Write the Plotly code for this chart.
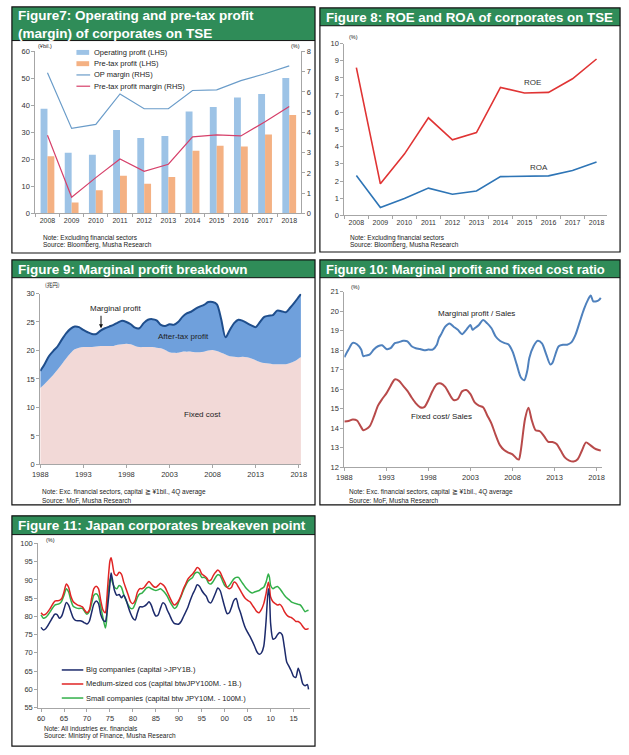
import plotly.graph_objects as go

W, H = 629, 755


def px(x):
    return x / W


def py(y):
    return 1 - y / H


# ---------------- DATA ----------------
# Figure 7
F7_YEARS = ["2008", "2009", "2010", "2011", "2012", "2013", "2014", "2015", "2016", "2017", "2018"]
F7_OP_PROFIT = [38.8, 22.5, 21.7, 30.9, 27.9, 28.7, 37.8, 39.4, 42.9, 44.2, 50.2]
F7_PRETAX_PROFIT = [21.2, 4.1, 8.6, 14.0, 11.0, 13.5, 23.2, 25.1, 24.8, 29.2, 36.5]
F7_OP_MARGIN = [6.95, 4.2, 4.4, 5.9, 5.17, 5.17, 6.07, 6.1, 6.56, 6.9, 7.29]
F7_PRETAX_MARGIN = [3.86, 0.8, 1.77, 2.69, 2.08, 2.43, 3.78, 3.88, 3.83, 4.53, 5.28]

# Figure 8
F8_YEARS = ["2008", "2009", "2010", "2011", "2012", "2013", "2014", "2015", "2016", "2017", "2018"]
F8_ROE = [8.6, 1.84, 3.57, 5.68, 4.4, 4.82, 7.45, 7.12, 7.16, 7.95, 9.1]
F8_ROA = [2.32, 0.46, 0.98, 1.59, 1.23, 1.42, 2.26, 2.3, 2.3, 2.61, 3.11]

# Figure 9 (trillion yen)
F9_X = [1988, 1988.5, 1989, 1989.5, 1990, 1990.5, 1991, 1991.5, 1992, 1992.5,
        1993, 1993.5, 1994, 1994.5, 1995, 1995.5, 1996, 1996.5, 1997, 1997.5,
        1998, 1998.5, 1999, 1999.5, 2000, 2000.5, 2001, 2001.5, 2002, 2002.5,
        2003, 2003.5, 2004, 2004.5, 2005, 2005.5, 2006, 2006.5, 2007, 2007.5,
        2008, 2008.5, 2009, 2009.5, 2010, 2010.5, 2011, 2011.5, 2012, 2012.5,
        2013, 2013.5, 2014, 2014.5, 2015, 2015.5, 2016, 2016.5, 2017, 2017.5,
        2018, 2018.25]
F9_MARGINAL = [16.4, 17.6, 19.0, 19.9, 20.7, 21.9, 23.0, 23.8, 24.2, 24.1,
               23.6, 23.2, 22.9, 22.9, 23.5, 23.9, 24.2, 24.5, 24.9, 25.2,
               25.0, 24.6, 24.0, 23.9, 24.8, 25.4, 25.5, 25.3, 24.5, 24.3,
               24.6, 24.5, 25.0, 25.9, 26.5, 26.8, 27.3, 27.7, 28.0, 28.5,
               28.5, 28.1, 25.5, 22.3, 23.6, 24.8, 25.4, 25.2, 24.8, 24.4,
               24.1, 25.0, 25.9, 26.1, 26.2, 27.0, 26.9, 26.7, 27.5, 28.4,
               29.4, 29.9]
F9_FIXED = [13.4, 14.1, 14.9, 15.7, 16.6, 17.6, 18.6, 19.5, 20.2, 20.5,
            20.6, 20.6, 20.6, 20.7, 20.8, 20.8, 20.8, 20.8, 21.0, 21.1,
            21.2, 21.1, 20.8, 20.6, 20.6, 20.6, 20.6, 20.5, 20.4, 20.1,
            19.7, 19.6, 19.6, 19.8, 19.8, 19.8, 19.7, 19.7, 19.8, 20.0,
            20.1, 19.9, 19.6, 19.3, 19.0, 18.9, 18.8, 18.9, 18.8, 18.6,
            18.3, 18.0, 17.8, 17.7, 17.6, 17.6, 17.6, 17.6, 17.8, 18.1,
            18.6, 18.8]

# Figure 10 (%)
F10_MP_X = [1988, 1988.5, 1989, 1989.5, 1990, 1990.25, 1990.5, 1991, 1991.5, 1992,
            1992.5, 1993, 1993.5, 1994, 1994.5, 1995, 1995.5, 1996, 1996.5, 1997,
            1997.5, 1998, 1998.5, 1999, 1999.25, 1999.5, 2000, 2000.5, 2001, 2001.5,
            2002, 2002.5, 2003, 2003.25, 2003.5, 2004, 2004.5, 2005, 2005.5, 2006,
            2006.5, 2007, 2007.5, 2008, 2008.5, 2009, 2009.4, 2009.75, 2010, 2010.5,
            2011, 2011.5, 2012, 2012.5, 2012.75, 2013, 2013.5, 2014, 2014.5, 2015,
            2015.5, 2016, 2016.5, 2017, 2017.3, 2017.6, 2018, 2018.25, 2018.5]
F10_MP = [17.64, 18.03, 18.37, 18.3, 18.03, 17.69, 17.72, 17.77, 18.03, 18.2,
          18.25, 18.06, 18.1, 18.36, 18.41, 18.48, 18.45, 18.2, 18.1, 18.06,
          17.99, 18.03, 18.03, 18.28, 18.62, 18.8, 19.2, 19.37, 19.2, 19.04,
          18.82, 19.04, 19.29, 19.04, 19.12, 19.29, 19.54, 19.37, 19.12, 18.7,
          18.48, 18.37, 18.3, 17.94, 17.27, 16.6, 16.46, 16.93, 17.6, 18.2,
          18.48, 18.35, 17.8, 17.27, 17.35, 17.65, 18.2, 18.28, 18.28, 18.4,
          18.8, 19.45, 20.1, 20.6, 20.8, 20.5, 20.5, 20.55, 20.67]
F10_FC_X = [1988, 1988.5, 1989, 1989.5, 1990, 1990.25, 1991, 1991.5, 1992, 1992.5,
            1993, 1993.5, 1994, 1994.5, 1995, 1995.5, 1996, 1996.5, 1997, 1997.5,
            1998, 1998.5, 1999, 1999.5, 2000, 2000.5, 2001, 2001.5, 2002, 2002.5,
            2003, 2003.5, 2004, 2004.5, 2005, 2005.5, 2006, 2006.5, 2007, 2007.5,
            2008, 2008.5, 2008.75, 2009, 2009.5, 2009.9, 2010.3, 2010.75, 2011.25, 2011.75,
            2012.25, 2012.75, 2013.25, 2013.75, 2014.25, 2014.75, 2015.25, 2015.75, 2016.25, 2016.75,
            2017.25, 2017.75, 2018.25, 2018.5]
F10_FC = [14.35, 14.38, 14.45, 14.4, 14.06, 13.9, 14.1, 14.58, 15.16, 15.5,
          15.79, 16.17, 16.5, 16.43, 16.17, 15.92, 15.58, 15.28, 15.08, 15.08,
          15.45, 15.92, 16.26, 16.29, 16.12, 15.75, 15.45, 15.5, 15.89, 15.96,
          15.75, 15.33, 15.16, 15.08, 14.66, 14.24, 13.65, 13.14, 12.89, 12.76,
          12.67, 12.45, 12.4, 12.9, 14.5, 15.05, 14.4, 13.9, 13.85, 13.6,
          13.31, 13.3, 13.2, 12.85, 12.5, 12.35, 12.3, 12.42, 12.85, 13.28,
          13.14, 12.98, 12.89, 12.86]

# Figure 11 (%), half-yearly readings
F11_X = [1960, 1960.5, 1961, 1961.5, 1962, 1962.5, 1963, 1963.5, 1964, 1964.5,
         1965, 1965.5, 1966, 1966.5, 1967, 1967.5, 1968, 1968.5, 1969, 1969.5,
         1970, 1970.5, 1971, 1971.5, 1972, 1972.5, 1973, 1973.5, 1974, 1974.25, 1974.5,
         1975, 1975.25, 1975.5, 1976, 1976.5, 1977, 1977.5, 1978, 1978.5, 1979, 1979.5,
         1980, 1980.5, 1981, 1981.5, 1982, 1982.5, 1983, 1983.5, 1984, 1984.5,
         1985, 1985.5, 1986, 1986.5, 1987, 1987.5, 1988, 1988.5, 1989, 1989.5,
         1990, 1990.5, 1991, 1991.5, 1992, 1992.5, 1993, 1993.5, 1994, 1994.5,
         1995, 1995.5, 1996, 1996.5, 1997, 1997.5, 1998, 1998.5, 1999, 1999.5,
         2000, 2000.5, 2001, 2001.5, 2002, 2002.5, 2003, 2003.5, 2004, 2004.5,
         2005, 2005.5, 2006, 2006.5, 2007, 2007.5, 2008, 2008.5, 2009, 2009.5, 2009.75,
         2010, 2010.5, 2011, 2011.5, 2012, 2012.5, 2013, 2013.5, 2014, 2014.5,
         2015, 2015.5, 2016, 2016.5, 2017, 2017.5, 2018, 2018.25]
F11_BIG = [77.0, 76.3, 76.6, 77.5, 78.6, 79.7, 80.6, 80.5, 79.5, 80.1,
           82.0, 83.8, 83.1, 81.3, 79.6, 78.9, 78.8, 78.8, 78.6, 78.2,
           77.9, 78.6, 81.0, 83.4, 84.2, 83.6, 80.5, 79.0, 78.6, 80.0, 82.6,
           88.9, 91.9, 90.5, 87.1, 85.8, 86.0, 85.1, 85.8, 84.6, 82.6, 80.8,
           79.5, 79.0, 81.0, 82.6, 82.6, 82.8, 83.3, 84.0, 83.1, 81.3,
           80.1, 80.4, 82.2, 83.7, 83.3, 81.7, 80.4, 79.0, 78.1, 77.9,
           77.9, 78.6, 79.9, 81.2, 82.6, 84.4, 86.0, 87.3, 88.7, 88.3,
           87.1, 86.2, 85.5, 84.0, 83.7, 84.9, 86.4, 87.8, 87.1, 84.9,
           82.6, 80.8, 81.0, 82.6, 84.4, 84.9, 82.6, 80.8, 78.6, 76.8,
           75.6, 74.5, 73.2, 71.8, 70.3, 69.6, 70.0, 71.8, 78.6, 87.6, 85.5,
           78.0, 73.8, 74.0, 75.0, 75.6, 75.0, 71.5, 67.5, 66.3, 65.0,
           63.5, 63.3, 65.8, 64.0, 61.5, 61.0, 61.3, 60.0]
F11_MEDIUM = [81.0, 80.4, 80.6, 81.3, 82.2, 83.3, 84.2, 84.3, 84.4, 84.9,
              86.7, 88.9, 88.0, 85.5, 84.0, 83.5, 83.1, 82.9, 82.6, 81.7,
              81.0, 81.7, 84.9, 87.6, 88.3, 87.6, 84.4, 81.7, 81.0, 83.5, 88.0,
              95.2, 96.1, 94.8, 91.6, 91.2, 92.1, 91.6, 89.4, 87.6, 85.8, 84.0,
              83.5, 84.4, 86.7, 87.6, 87.6, 88.0, 88.9, 89.6, 88.9, 88.2,
              88.0, 88.5, 89.1, 88.7, 88.0, 86.7, 85.3, 84.0, 83.1, 83.5,
              84.4, 85.8, 87.6, 88.9, 90.3, 91.0, 91.6, 92.5, 93.4, 93.0,
              91.6, 91.2, 90.7, 89.8, 90.0, 91.2, 92.1, 92.7, 92.1, 90.7,
              89.4, 88.0, 87.6, 88.0, 89.4, 89.1, 88.0, 86.9, 85.8, 84.9,
              84.4, 84.0, 83.1, 82.2, 81.3, 81.0, 81.9, 83.5, 86.2, 89.4, 88.0,
              85.3, 84.0, 83.5, 83.1, 83.3, 82.6, 81.3, 80.4, 79.9, 79.7,
              79.2, 78.6, 78.6, 78.1, 77.2, 76.5, 76.5, 76.7]
F11_SMALL = [80.4, 79.5, 79.7, 80.4, 81.3, 82.3, 83.1, 83.3, 83.5, 84.2,
             85.8, 87.6, 86.7, 84.4, 82.8, 82.4, 82.2, 82.2, 82.2, 81.3,
             80.6, 81.3, 83.5, 85.8, 86.2, 85.5, 82.6, 79.5, 76.8, 78.6, 85.3,
             90.0, 90.7, 89.5, 88.0, 87.6, 88.5, 88.0, 86.0, 84.4, 83.1, 82.2,
             82.2, 83.5, 85.3, 86.2, 86.4, 87.1, 87.8, 88.0, 87.6, 87.3,
             87.1, 87.3, 87.6, 87.1, 86.4, 85.5, 84.2, 83.1, 82.2, 82.6,
             84.0, 85.5, 87.1, 88.5, 89.6, 90.2, 90.7, 91.8, 92.1, 91.8,
             90.7, 90.7, 90.3, 89.1, 88.9, 89.6, 90.7, 91.4, 91.2, 89.8,
             88.5, 88.0, 88.5, 89.4, 90.3, 90.7, 90.7, 89.8, 88.9, 88.0,
             87.3, 86.7, 86.4, 86.7, 86.9, 87.1, 87.6, 88.0, 89.4, 91.6, 90.7,
             88.5, 87.6, 88.0, 88.2, 87.6, 86.7, 85.8, 85.1, 84.6, 84.0,
             83.7, 83.5, 83.3, 83.1, 82.2, 81.3, 81.6, 81.7]
F11_TICKVALS = [1960, 1965, 1970, 1975, 1980, 1985, 1990, 1995, 2000, 2005, 2010, 2015]
F11_TICKTEXT = ["60", "65", "70", "75", "80", "85", "90", "95", "00", "05", "10", "15"]

# ---------------- STYLE ----------------
FONT = "Liberation Sans, Arial, sans-serif"
GREEN = "#2f8c58"
AX = "#a6a6a6"
TICKF = dict(family=FONT, size=7.5, color="#333333")

C_OPB = "#9dc3e6"
C_PTB = "#f4b183"
C_OPM = "#6a9cc9"
C_PTM = "#d6406a"
C_ROE = "#e03434"
C_ROA = "#2e75b6"
C_F9LINE = "#1f4e8c"
C_F9FILL = "#6fa0dc"
C_F9PINK = "#f2d9d7"
C_MP = "#4f81bd"
C_FC = "#b84a4a"
C_BIG = "#1c2a6b"
C_MED = "#e02525"
C_SML = "#33b04a"

fig = go.Figure()

# Figure 7
fig.add_trace(go.Bar(x=F7_YEARS, y=F7_OP_PROFIT, marker_color=C_OPB, name="Operating profit (LHS)",
                     xaxis="x", yaxis="y", marker_line_width=0))
fig.add_trace(go.Bar(x=F7_YEARS, y=F7_PRETAX_PROFIT, marker_color=C_PTB, name="Pre-tax profit (LHS)",
                     xaxis="x", yaxis="y", marker_line_width=0))
fig.add_trace(go.Scatter(x=F7_YEARS, y=F7_OP_MARGIN, mode="lines", line=dict(color=C_OPM, width=1.2),
                         name="OP margin (RHS)", xaxis="x", yaxis="y2"))
fig.add_trace(go.Scatter(x=F7_YEARS, y=F7_PRETAX_MARGIN, mode="lines", line=dict(color=C_PTM, width=1.2),
                         name="Pre-tax profit margin (RHS)", xaxis="x", yaxis="y2"))

# Figure 8
fig.add_trace(go.Scatter(x=F8_YEARS, y=F8_ROE, mode="lines", line=dict(color=C_ROE, width=1.6),
                         name="ROE", xaxis="x2", yaxis="y3"))
fig.add_trace(go.Scatter(x=F8_YEARS, y=F8_ROA, mode="lines", line=dict(color=C_ROA, width=1.6),
                         name="ROA", xaxis="x2", yaxis="y3"))

# Figure 9
fig.add_trace(go.Scatter(x=F9_X, y=F9_FIXED, mode="lines", line=dict(color=C_F9PINK, width=0, shape="spline"),
                         fill="tozeroy", fillcolor=C_F9PINK, name="Fixed cost", xaxis="x3", yaxis="y4"))
fig.add_trace(go.Scatter(x=F9_X, y=F9_MARGINAL, mode="lines",
                         line=dict(color=C_F9LINE, width=2, shape="spline", smoothing=0.8),
                         fill="tonexty", fillcolor=C_F9FILL, name="Marginal profit", xaxis="x3", yaxis="y4"))

# Figure 10
fig.add_trace(go.Scatter(x=F10_MP_X, y=F10_MP, mode="lines",
                         line=dict(color=C_MP, width=2, shape="spline", smoothing=0.8),
                         name="Marginal profit / Sales", xaxis="x4", yaxis="y5"))
fig.add_trace(go.Scatter(x=F10_FC_X, y=F10_FC, mode="lines",
                         line=dict(color=C_FC, width=2, shape="spline", smoothing=0.8),
                         name="Fixed cost/ Sales", xaxis="x4", yaxis="y5"))

# Figure 11
fig.add_trace(go.Scatter(x=F11_X, y=F11_SMALL, mode="lines",
                         line=dict(color=C_SML, width=1.5, shape="spline", smoothing=0.7),
                         name="Small companies", xaxis="x5", yaxis="y6"))
fig.add_trace(go.Scatter(x=F11_X, y=F11_MEDIUM, mode="lines",
                         line=dict(color=C_MED, width=1.5, shape="spline", smoothing=0.7),
                         name="Medium-sized cos", xaxis="x5", yaxis="y6"))
fig.add_trace(go.Scatter(x=F11_X, y=F11_BIG, mode="lines",
                         line=dict(color=C_BIG, width=1.5, shape="spline", smoothing=0.7),
                         name="Big companies", xaxis="x5", yaxis="y6"))


def axis(**kw):
    base = dict(showgrid=False, zeroline=False, showline=True, linecolor=AX, linewidth=1,
                ticks="outside", ticklen=3, tickcolor=AX, tickfont=TICKF, fixedrange=True,
                tickangle=0)
    base.update(kw)
    return base


YEARF = dict(family=FONT, size=7, color="#333333")

fig.update_layout(
    width=W, height=H, margin=dict(l=0, r=0, t=0, b=0), autosize=False,
    paper_bgcolor="white", plot_bgcolor="rgba(0,0,0,0)",
    showlegend=False, barmode="group", bargap=0.43, bargroupgap=0,
    font=dict(family=FONT, color="#222222"),
    xaxis=axis(domain=[px(28), px(300)], anchor="y", type="category", range=[-0.5, 10.5],
               tickson="boundaries", tickfont=YEARF),
    yaxis=axis(domain=[py(212), py(48)], anchor="x", range=[0, 60], dtick=10),
    yaxis2=axis(overlaying="y", side="right", anchor="x", range=[0, 8], dtick=1),
    xaxis2=axis(domain=[px(344), px(613)], anchor="y3", type="category", range=[-0.5, 10.45],
                tickson="boundaries", tickfont=YEARF),
    yaxis3=axis(domain=[py(214), py(40)], anchor="x2", range=[0, 10], dtick=1),
    xaxis3=axis(domain=[px(33), px(300)], anchor="y4", range=[1988, 2018.3],
                tickvals=[1988, 1993, 1998, 2003, 2008, 2013, 2018]),
    yaxis4=axis(domain=[py(466), py(293)], anchor="x3", range=[0, 30], dtick=5),
    xaxis4=axis(domain=[px(344), px(608)], anchor="y5", range=[1988, 2018.7],
                tickvals=[1988, 1993, 1998, 2003, 2008, 2013, 2018]),
    yaxis5=axis(domain=[py(469), py(291)], anchor="x4", range=[12, 21], dtick=1),
    xaxis5=axis(domain=[px(31), px(309)], anchor="y6", range=[1959.4, 2018.6],
                tickvals=F11_TICKVALS, ticktext=F11_TICKTEXT),
    yaxis6=axis(domain=[py(712), py(546)], anchor="x5", range=[55, 100], dtick=5),
)

shapes = []
annos = []


def box(x0, y0, x1, y1, **kw):
    d = dict(type="rect", xref="paper", yref="paper", x0=px(x0), x1=px(x1), y0=py(y1), y1=py(y0))
    d.update(kw)
    shapes.append(d)


def text(x, y, s, size=6.5, color="#222222", xanchor="left", bold=False, family=FONT, align="left"):
    annos.append(dict(xref="paper", yref="paper", x=px(x), y=py(y), text=("<b>%s</b>" % s) if bold else s,
                      showarrow=False, xanchor=xanchor, yanchor="middle", align=align,
                      font=dict(family=family, size=size, color=color)))


# Panel frames and title bars
PANELS = [
    (4, 3, 314, 252, 37),
    (319, 4, 626, 251, 22),
    (4, 259, 314, 507, 277),
    (319, 259, 626, 507, 277),
    (4, 518, 314, 751, 537),
]
for (x0, y0, x1, y1, ty) in PANELS:
    box(x0, y0, x1, ty, fillcolor=GREEN, line=dict(width=0), layer="below")
    box(x0, y0, x1, y1, fillcolor="rgba(0,0,0,0)", line=dict(color="#111111", width=1.2))
    shapes.append(dict(type="line", xref="paper", yref="paper", x0=px(x0), x1=px(x1), y0=py(ty), y1=py(ty),
                       line=dict(color="#111111", width=1)))

# Titles
text(8, 21, "Figure7: Operating and pre-tax profit<br>(margin) of corporates on TSE", 13.5, "white", bold=True)
text(323, 13.5, "Figure 8: ROE and ROA of corporates on TSE", 13.3, "white", bold=True)
text(8, 268.5, "Figure 9: Marginal profit breakdown", 13.5, "white", bold=True)
text(323, 268.5, "Figure 10: Marginal profit and fixed cost ratio", 13, "white", bold=True)
text(8, 528, "Figure 11: Japan corporates breakeven point", 13.5, "white", bold=True)

# Figure 7 legend (drawn by hand) and units
LEG7 = [("Operating profit (LHS)", C_OPB, "bar"), ("Pre-tax profit (LHS)", C_PTB, "bar"),
        ("OP margin (RHS)", C_OPM, "line"), ("Pre-tax profit margin (RHS)", C_PTM, "line")]
for i, (lab, col, kind) in enumerate(LEG7):
    yy = 49 + i * 11.4
    if kind == "bar":
        box(70, yy - 2.5, 83, yy + 2.5, fillcolor=col, line=dict(width=0))
    else:
        shapes.append(dict(type="line", xref="paper", yref="paper", x0=px(70), x1=px(84), y0=py(yy), y1=py(yy),
                           line=dict(color=col, width=1.2)))
    text(86, yy, lab, 7.5, "#222222")
text(29, 43, "(¥bil.)", 5.5)
text(287, 43, "(%)", 5.5)
text(34, 237, "Note: Excluding financial sectors", 6.5)
text(34, 243.5, "Source: Bloomberg, Musha Research", 6.5)

# Figure 8 labels
text(347, 33, "(%)", 5.5)
text(536, 79, "ROE", 8, "#333333", xanchor="center")
text(543, 165, "ROA", 8, "#333333", xanchor="center")
text(348, 237, "Note: Excluding financial sectors", 6.5)
text(348, 243.5, "Source: Bloomberg, Musha Research", 6.5)

# Figure 9 labels
text(36, 284, "(兆円)", 5.5, family="Noto Sans CJK JP")
text(110, 308, "Marginal profit", 8, "#222222", xanchor="center")
annos.append(dict(xref="x3", yref="y4", x=1995.05, y=23.9, ax=0, ay=-14, text="", showarrow=True,
                  arrowhead=2, arrowsize=0.8, arrowwidth=1, arrowcolor="#111111"))
text(180, 337, "After-tax profit", 8, "#222222", xanchor="center")
text(199, 415, "Fixed cost", 8, "#222222", xanchor="center")
text(33, 494, "Note: Exc. financial sectors, capital ≧ ¥1bil., 4Q average", 6.5)
text(33, 502, "Source: MoF, Musha Research", 6.5)

# Figure 10 labels
text(349, 286, "(%)", 5.5)
text(479, 313, "Marginal profit / Sales", 8, "#222222", xanchor="center")
text(443, 417, "Fixed cost/ Sales", 8, "#222222", xanchor="center")
text(347, 494, "Note: Exc. financial sectors, capital ≧ ¥1bil., 4Q average", 6.5)
text(347, 502, "Source: MoF, Musha Research", 6.5)

# Figure 11 legend (drawn by hand) and notes
LEG11 = [("Big companies (capital >JPY1B.)", C_BIG), ("Medium-sized cos (capital btwJPY100M. - 1B.)", C_MED),
         ("Small companies (capital btw JPY10M. - 100M.)", C_SML)]
for i, (lab, col) in enumerate(LEG11):
    yy = 674 + i * 14.2
    shapes.append(dict(type="line", xref="paper", yref="paper", x0=px(55), x1=px(77), y0=py(yy), y1=py(yy),
                       line=dict(color=col, width=1.5)))
    text(78, yy, lab, 7.5, "#222222")
text(37, 542, "(%)", 5.5)
text(35, 733, "Note: All industries ex. financials", 6.5)
text(35, 740.5, "Source: Ministry of Finance, Musha Research", 6.5)

fig.update_layout(shapes=shapes, annotations=annos)
fig.write_html("out.html", config={"displayModeBar": False, "staticPlot": True},
               post_script="document.body.style.margin='0';document.body.style.overflow='hidden';")
